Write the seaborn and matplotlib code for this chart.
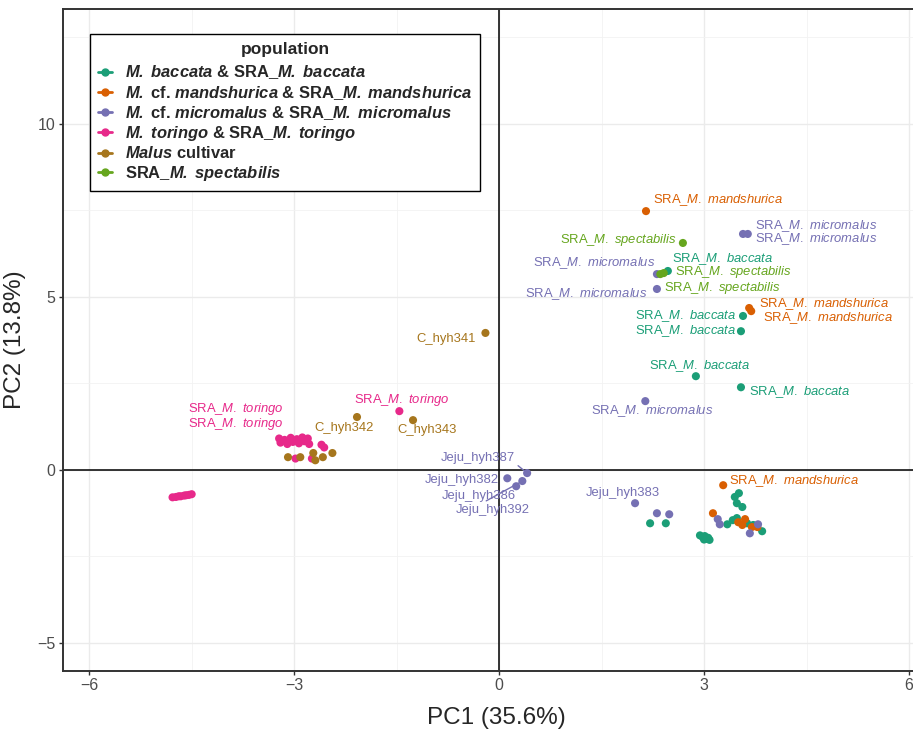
import seaborn as sns
import matplotlib.pyplot as plt
import pandas as pd
import numpy as np
from matplotlib.lines import Line2D
from matplotlib.ticker import MultipleLocator

# PCA scores, one group per population
baccata_pc1 = [2.47, 3.57, 3.54, 2.88, 3.54, 3.45, 3.51, 3.48, 3.56, 3.34, 3.42, 3.48,
               3.63, 3.72, 3.85, 2.94, 2.98, 3.01, 3.03, 3.06, 3.08, 3.00, 2.21, 2.44]
baccata_pc2 = [5.74, 4.44, 4.00, 2.70, 2.38, -0.79, -0.68, -0.97, -1.08, -1.58, -1.46, -1.40,
               -1.55, -1.60, -1.78, -1.90, -1.95, -1.92, -2.00, -1.97, -2.03, -2.02, -1.55, -1.55]
baccata_names = ["SRA_M. baccata"] * 5

mandshurica_pc1 = [2.15, 3.66, 3.69, 3.28, 3.13, 3.50, 3.60, 3.56, 3.70, 3.78]
mandshurica_pc2 = [7.47, 4.67, 4.58, -0.45, -1.26, -1.52, -1.43, -1.60, -1.66, -1.66]
mandshurica_names = ["SRA_M. mandshurica"] * 4

micromalus_pc1 = [3.57, 3.64, 2.31, 2.31, 2.14, 0.41, 0.12, 0.34, 0.25, 1.99,
                  2.31, 2.49, 3.20, 3.23, 3.79, 3.67]
micromalus_pc2 = [6.81, 6.81, 5.65, 5.22, 1.98, -0.10, -0.25, -0.33, -0.48, -0.97,
                  -1.26, -1.29, -1.43, -1.58, -1.58, -1.84]
micromalus_names = ["SRA_M. micromalus"] * 5 + ["Jeju_hyh387", "Jeju_hyh382", "Jeju_hyh392",
                                                 "Jeju_hyh386", "Jeju_hyh383"]

toringo_pc1 = [-1.46, -3.22, -3.20, -3.14, -3.10, -3.05, -3.02, -2.96, -2.93, -2.88, -2.85,
               -2.80, -2.78, -2.60, -2.56, -2.98, -2.74, -4.78, -4.73, -4.69, -4.66, -4.61,
               -4.58, -4.54, -4.50]
toringo_pc2 = [1.69, 0.90, 0.78, 0.86, 0.74, 0.92, 0.80, 0.88, 0.76, 0.93, 0.82,
               0.90, 0.74, 0.72, 0.64, 0.32, 0.32, -0.80, -0.79, -0.77, -0.77, -0.75,
               -0.74, -0.73, -0.71]
toringo_names = ["SRA_M. toringo"] * 3

cultivar_pc1 = [-0.20, -1.26, -2.08, -3.09, -2.91, -2.72, -2.69, -2.58, -2.44]
cultivar_pc2 = [3.95, 1.43, 1.52, 0.36, 0.36, 0.48, 0.27, 0.36, 0.48]
cultivar_names = ["C_hyh341", "C_hyh343", "C_hyh342"]

spectabilis_pc1 = [2.69, 2.41, 2.36]
spectabilis_pc2 = [6.55, 5.68, 5.65]
spectabilis_names = ["SRA_M. spectabilis"] * 3

groups = ["baccata", "mandshurica", "micromalus", "toringo", "cultivar", "spectabilis"]
legend_labels = [
    r"$\mathbf{M.}$ $\mathbf{baccata}$ & SRA_$\mathbf{M.}$ $\mathbf{baccata}$",
    r"$\mathbf{M.}$ cf. $\mathbf{mandshurica}$ & SRA_$\mathbf{M.}$ $\mathbf{mandshurica}$",
    r"$\mathbf{M.}$ cf. $\mathbf{micromalus}$ & SRA_$\mathbf{M.}$ $\mathbf{micromalus}$",
    r"$\mathbf{M.}$ $\mathbf{toringo}$ & SRA_$\mathbf{M.}$ $\mathbf{toringo}$",
    r"$\mathbf{Malus}$ cultivar",
    r"SRA_$\mathbf{M.}$ $\mathbf{spectabilis}$",
]
colors = ["#1B9E77", "#D95F02", "#7570B3", "#E7298A", "#A6761D", "#66A61E"]
palette = dict(zip(groups, colors))

data = {
    "baccata": (baccata_pc1, baccata_pc2, baccata_names),
    "mandshurica": (mandshurica_pc1, mandshurica_pc2, mandshurica_names),
    "micromalus": (micromalus_pc1, micromalus_pc2, micromalus_names),
    "toringo": (toringo_pc1, toringo_pc2, toringo_names),
    "cultivar": (cultivar_pc1, cultivar_pc2, cultivar_names),
    "spectabilis": (spectabilis_pc1, spectabilis_pc2, spectabilis_names),
}

rows = []
for g in groups:
    xs, ys, names = data[g]
    for i in range(len(xs)):
        rows.append({"PC1": xs[i], "PC2": ys[i], "population": g,
                     "name": names[i] if i < len(names) else None, "idx": i})
df = pd.DataFrame(rows)

# where the repelled labels ended up, relative to their point
nudges = {
    ("baccata", 0): (0.06, 0.34, "left"),
    ("baccata", 1): (-0.10, 0.0, "right"),
    ("baccata", 2): (-0.07, 0.0, "right"),
    ("baccata", 3): (-0.68, 0.29, "left"),
    ("baccata", 4): (0.12, -0.14, "left"),
    ("mandshurica", 0): (0.10, 0.32, "left"),
    ("mandshurica", 1): (0.15, 0.11, "left"),
    ("mandshurica", 2): (0.17, -0.20, "left"),
    ("mandshurica", 3): (0.09, 0.12, "left"),
    ("micromalus", 0): (0.18, 0.23, "left"),
    ("micromalus", 1): (0.11, -0.15, "left"),
    ("micromalus", 2): (-0.03, 0.32, "right"),
    ("micromalus", 3): (-0.14, -0.15, "right"),
    ("micromalus", 4): (0.99, -0.29, "right"),
    ("micromalus", 5): (-0.18, 0.43, "right"),
    ("micromalus", 6): (-0.13, -0.05, "right"),
    ("micromalus", 7): (0.11, -0.84, "right"),
    ("micromalus", 8): (0.0, -0.29, "right"),
    ("micromalus", 9): (0.37, 0.29, "right"),
    ("toringo", 0): (-0.66, 0.32, "left"),
    ("toringo", 1): (0.07, 0.85, "right"),
    ("toringo", 2): (0.05, 0.54, "right"),
    ("cultivar", 0): (-0.14, -0.18, "right"),
    ("cultivar", 1): (-0.23, -0.29, "left"),
    ("cultivar", 2): (-0.63, -0.32, "left"),
    ("spectabilis", 0): (-0.09, 0.08, "right"),
    ("spectabilis", 1): (0.17, 0.03, "left"),
    ("spectabilis", 2): (0.05, -0.40, "left"),
}
# labels that got a segment back to their point: relpos on the text box
leaders = {("micromalus", 5): (1.0, 0.1), ("micromalus", 7): (0.33, 1.0)}

sns.set_style("white")
plt.rcParams["font.family"] = ["Liberation Sans", "DejaVu Sans"]
plt.rcParams["mathtext.fontset"] = "custom"
plt.rcParams["mathtext.rm"] = "Liberation Sans"
plt.rcParams["mathtext.it"] = "Liberation Sans:italic"
plt.rcParams["mathtext.bf"] = "Liberation Sans:bold:italic"

fig = plt.figure(figsize=(9.13, 7.33), dpi=100)
ax = fig.add_axes([0.0685, 0.085, 0.9496, 0.9027])

ax.axhline(0, color="black", lw=1.1, zorder=1)
ax.axvline(0, color="black", lw=1.1, zorder=1)

sns.scatterplot(data=df, x="PC1", y="PC2", hue="population", palette=palette,
                hue_order=groups, s=34, linewidth=0, legend=False, ax=ax, zorder=3)

for _, r in df[df["name"].notna()].iterrows():
    key = (r["population"], r["idx"])
    dx, dy, ha = nudges[key]
    name = r["name"]
    if name.startswith("SRA_M. "):
        txt = "SRA_$\\mathit{M.}$ $\\mathit{" + name[7:] + "}$"
    else:
        txt = name
    c = palette[r["population"]]
    if key in leaders:
        ax.annotate(txt, xy=(r["PC1"], r["PC2"]), xytext=(r["PC1"] + dx, r["PC2"] + dy),
                    ha=ha, va="center", color=c, fontsize=9.4, zorder=4,
                    arrowprops=dict(arrowstyle="-", color=c, lw=1.0, shrinkA=0, shrinkB=3,
                                    relpos=leaders[key]))
    else:
        ax.text(r["PC1"] + dx, r["PC2"] + dy, txt, ha=ha, va="center", color=c,
                fontsize=9.4, zorder=4)

ax.set_xlim(-6.39, 6.30)
ax.set_ylim(-5.81, 13.31)
ax.xaxis.set_major_locator(MultipleLocator(3))
ax.xaxis.set_minor_locator(MultipleLocator(1.5))
ax.yaxis.set_major_locator(MultipleLocator(5))
ax.yaxis.set_minor_locator(MultipleLocator(2.5))
ax.grid(which="major", color="#EBEBEB", lw=1.0, zorder=0)
ax.grid(which="minor", color="#F2F2F2", lw=0.6, zorder=0)
ax.set_axisbelow(True)
ax.tick_params(which="major", length=3, width=1, color="#333333", labelcolor="#4D4D4D",
               labelsize=11.5, pad=2, bottom=True, left=True)
ax.tick_params(which="minor", length=0)
for side in ["left", "bottom", "top", "right"]:
    ax.spines[side].set_color("#333333")
    ax.spines[side].set_linewidth(1.4)

ax.set_xlabel("PC1 (35.6%)", fontsize=17.5, labelpad=10)
ax.set_ylabel("PC2 (13.8%)", fontsize=17.5, labelpad=8)

handles = [Line2D([0], [0], color=c, lw=2, marker="o", ms=5) for c in colors]
leg = ax.legend(handles, legend_labels, title="population", loc="upper left",
                bbox_to_anchor=(90 / 913, 1 - 34 / 733), bbox_transform=fig.transFigure,
                prop={"weight": "bold", "size": 11.85}, title_fontproperties={"weight": "bold", "size": 12.5},
                frameon=True, fancybox=False, edgecolor="black", framealpha=1,
                borderaxespad=0, handlelength=0.85, handletextpad=0.75, labelspacing=0.14,
                borderpad=0.5)
leg.get_frame().set_linewidth(1.0)
leg._legend_box.sep = 4.5  # a bit more room under the title

plt.savefig("out.png", dpi=100)
